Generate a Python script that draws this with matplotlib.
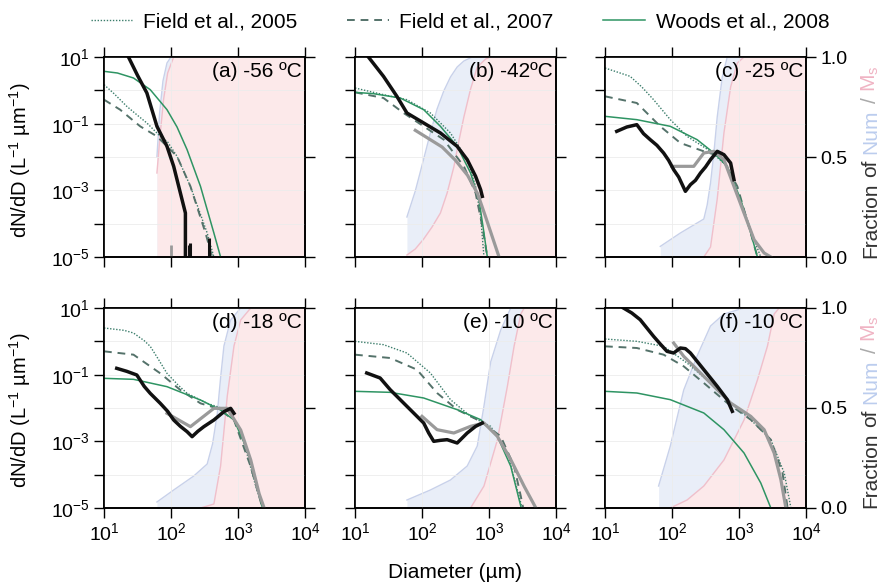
import numpy as np
import matplotlib
matplotlib.use('Agg')
import matplotlib.pyplot as plt
from matplotlib.lines import Line2D
from matplotlib.ticker import FixedLocator, FuncFormatter, NullLocator

plt.rcParams['font.family'] = ['Liberation Sans', 'DejaVu Sans']
plt.rcParams['mathtext.fontset'] = 'custom'
plt.rcParams['mathtext.rm'] = 'Liberation Sans'
plt.rcParams['mathtext.it'] = 'Liberation Sans:italic'
plt.rcParams['mathtext.default'] = 'regular'

# ---------------- data (log10 diameter [um], log10 dN/dD, fractions) ----------------
panel_labels = ['(a) -56 ºC', '(b) -42ºC', '(c) -25 ºC', '(d) -18 ºC', '(e) -10 ºC', '(f) -10 ºC']
legend_labels = ['Field et al., 2005', 'Field et al., 2007', 'Woods et al., 2008']
x_ticks = [10, 100, 1000, 10000]
y_ticks = [1e-5, 1e-4, 1e-3, 1e-2, 1e-1, 1e0, 1e1]
frac_ticks = [0.0, 0.5, 1.0]

# panel (a)
a_black_x = [1.365, 1.50, 1.64, 1.79, 1.94, 2.04, 2.14, 2.215, 2.215]
a_black_y = [1.0, 0.45, -0.08, -1.08, -1.68, -2.28, -3.08, -3.68, -6.0]
a_spike_x = [2.27, 2.29, 2.565]
a_spike_y = [-4.65, -4.58, -4.43]
a_gspike_x = [2.0]
a_gspike_y = [-4.63]
a_gray_x = []
a_gray_y = []
a_woods_x = [1.0, 1.2, 1.44, 1.69, 1.94, 2.09, 2.24, 2.44, 2.64, 2.74]
a_woods_y = [0.57, 0.52, 0.37, 0.02, -0.58, -1.1, -1.78, -2.88, -4.28, -5.0]
a_f05_x = [1.0, 1.15, 1.34, 1.5, 1.64, 1.84, 1.95, 2.09, 2.29, 2.54, 2.64]
a_f05_y = [0.17, -0.1, -0.48, -0.75, -0.98, -1.38, -1.55, -1.98, -2.88, -4.28, -5.0]
a_f07_x = [1.0, 1.24, 1.54, 1.79, 2.09, 2.29, 2.515, 2.615]
a_f07_y = [-0.28, -0.58, -1.08, -1.38, -1.98, -2.88, -4.28, -5.0]
a_blue_x = [1.79, 1.83, 1.88, 1.94, 2.0, 4.0]
a_blue_y = [0.5, 0.72, 0.88, 0.97, 1.0, 1.0]
a_pink_x = [1.79, 1.84, 1.89, 1.95, 2.04, 4.0]
a_pink_y = [0.42, 0.62, 0.79, 0.92, 1.0, 1.0]

# panel (b)
b_black_x = [1.2, 1.425, 1.625, 1.775, 2.025, 2.275, 2.525, 2.675, 2.8, 2.875, 2.9]
b_black_y = [1.0, 0.42, -0.18, -0.68, -0.98, -1.28, -1.68, -2.08, -2.58, -2.98, -3.18]
b_gray_x = [1.9, 2.1, 2.3, 2.5, 2.68, 2.83, 2.95, 3.05, 3.15]
b_gray_y = [-1.2, -1.45, -1.7, -2.1, -2.55, -3.1, -3.8, -4.4, -5.0]
b_woods_x = [1.0, 1.275, 1.675, 2.025, 2.275, 2.525, 2.725, 2.85, 2.925, 2.975]
b_woods_y = [-0.06, -0.1, -0.23, -0.58, -1.08, -1.68, -2.48, -3.28, -4.28, -5.0]
b_f05_x = [1.0, 1.425, 1.775, 2.125, 2.425, 2.675, 2.8, 2.875, 2.925]
b_f05_y = [0.07, -0.13, -0.28, -0.68, -1.28, -2.08, -2.88, -3.78, -5.0]
b_f07_x = [1.0, 1.425, 1.725, 2.025, 2.325, 2.625, 2.8, 2.9, 2.975]
b_f07_y = [-0.06, -0.23, -0.68, -1.08, -1.48, -2.28, -3.08, -4.08, -5.0]
b_blue_x = [1.775, 1.9, 2.025, 2.125, 2.225, 2.325, 2.425, 2.525, 2.625, 2.75, 4.0]
b_blue_y = [0.2, 0.33, 0.49, 0.62, 0.74, 0.83, 0.9, 0.95, 0.98, 1.0, 1.0]
b_pink_x = [1.775, 1.9, 2.025, 2.15, 2.275, 2.375, 2.475, 2.55, 2.625, 2.725, 2.825, 2.95, 3.025, 4.0]
b_pink_y = [0.01, 0.04, 0.09, 0.15, 0.22, 0.32, 0.45, 0.58, 0.70, 0.84, 0.95, 0.99, 1.0, 1.0]

# panel (c)
c_black_x = [1.175, 1.325, 1.475, 1.575, 1.675, 1.775, 1.875, 1.95, 2.025, 2.1, 2.2, 2.275,
             2.35, 2.425, 2.5, 2.575, 2.675, 2.775, 2.875, 2.925]
c_black_y = [-1.23, -1.1, -1.03, -1.3, -1.48, -1.65, -1.88, -2.1, -2.38, -2.6, -3.03, -2.83,
             -2.7, -2.48, -2.3, -2.08, -1.83, -1.93, -2.18, -2.68]
c_gray_x = [2.0, 2.325, 2.475, 2.625, 2.775, 2.925, 3.075, 3.225, 3.375, 3.475]
c_gray_y = [-2.28, -2.28, -1.88, -1.83, -2.08, -2.88, -3.68, -4.48, -4.88, -5.0]
c_woods_x = [1.0, 1.475, 1.975, 2.375, 2.625, 2.825, 3.025, 3.175, 3.275]
c_woods_y = [-0.78, -0.88, -1.08, -1.48, -1.88, -2.28, -3.28, -4.28, -5.0]
c_f05_x = [1.0, 1.375, 1.55, 1.725, 1.975, 2.225, 2.575, 2.825, 3.025, 3.225, 3.325]
c_f05_y = [0.67, 0.42, 0.1, -0.28, -0.88, -1.38, -1.83, -2.28, -3.3, -4.48, -5.0]
c_f07_x = [1.0, 1.475, 1.825, 2.125, 2.475, 2.725, 2.975, 3.175, 3.275]
c_f07_y = [-0.18, -0.38, -1.08, -1.58, -1.83, -1.98, -2.88, -4.28, -5.0]
c_blue_x = [1.825, 2.125, 2.475, 2.525, 2.575, 2.625, 2.675, 2.75, 2.825, 4.0]
c_blue_y = [0.053, 0.12, 0.19, 0.26, 0.37, 0.52, 0.70, 0.9, 1.0, 1.0]
c_pink_x = [2.475, 2.575, 2.675, 2.775, 2.875, 2.975, 3.075, 4.0]
c_pink_y = [0.0, 0.05, 0.29, 0.62, 0.85, 0.97, 1.0, 1.0]

# panel (d)
d_black_x = [1.19, 1.34, 1.49, 1.6, 1.69, 1.84, 1.95, 2.04, 2.14, 2.24, 2.315, 2.4, 2.49,
             2.64, 2.79, 2.89, 2.94]
d_black_y = [-0.81, -0.9, -1.01, -1.35, -1.56, -1.86, -2.1, -2.36, -2.55, -2.71, -2.86, -2.7,
             -2.56, -2.36, -2.11, -2.01, -2.16]
d_gray_x = [1.94, 2.29, 2.64, 2.84, 3.04, 3.19, 3.315, 3.39]
d_gray_y = [-2.16, -2.56, -2.01, -2.01, -2.66, -3.56, -4.57, -5.0]
d_woods_x = [1.0, 1.44, 1.94, 2.44, 2.74, 2.94, 3.14, 3.29, 3.365]
d_woods_y = [-1.11, -1.14, -1.36, -1.76, -2.06, -2.36, -3.26, -4.37, -5.0]
d_f05_x = [1.0, 1.3, 1.44, 1.6, 1.69, 1.8, 1.94, 2.1, 2.24, 2.54, 2.84, 3.04, 3.24, 3.365]
d_f05_y = [0.4, 0.33, 0.25, 0.02, -0.15, -0.5, -0.96, -1.3, -1.56, -1.86, -2.06, -2.66, -4.17, -5.0]
d_f07_x = [1.0, 1.44, 1.84, 2.14, 2.44, 2.69, 2.94, 3.19, 3.365]
d_f07_y = [-0.3, -0.4, -0.96, -1.46, -1.86, -2.01, -2.36, -3.76, -5.0]
d_blue_x = [1.79, 2.04, 2.34, 2.54, 2.62, 2.69, 2.74, 2.79, 2.89, 3.04, 4.0]
d_blue_y = [0.03, 0.09, 0.16, 0.22, 0.32, 0.47, 0.65, 0.81, 0.94, 1.0, 1.0]
d_pink_x = [2.44, 2.64, 2.74, 2.84, 2.94, 3.04, 3.19, 4.0]
d_pink_y = [0.0, 0.02, 0.21, 0.56, 0.81, 0.94, 1.0, 1.0]

# panel (e)
e_black_x = [1.175, 1.375, 1.525, 1.65, 1.775, 1.9, 2.025, 2.1, 2.175, 2.275, 2.375, 2.45,
             2.525, 2.6, 2.675, 2.8, 2.9]
e_black_y = [-0.95, -1.1, -1.45, -1.7, -1.95, -2.2, -2.45, -2.75, -3.0, -2.97, -2.95, -3.0,
             -3.05, -2.9, -2.75, -2.55, -2.45]
e_gray_x = [2.0, 2.225, 2.475, 2.725, 2.925, 3.125, 3.325, 3.525, 3.7]
e_gray_y = [-2.25, -2.65, -2.75, -2.55, -2.45, -2.85, -3.55, -4.35, -5.0]
e_woods_x = [1.0, 1.525, 2.025, 2.525, 2.875, 3.125, 3.325, 3.475, 3.5]
e_woods_y = [-1.5, -1.53, -1.7, -2.05, -2.35, -2.85, -3.75, -4.95, -5.1]
e_f05_x = [1.0, 1.425, 1.775, 2.125, 2.425, 2.725, 3.025, 3.275, 3.475, 3.5]
e_f05_y = [0.0, -0.1, -0.35, -0.95, -1.75, -2.25, -2.55, -3.35, -4.85, -5.1]
e_f07_x = [1.0, 1.525, 1.925, 2.225, 2.525, 2.875, 3.175, 3.375, 3.475, 3.52]
e_f07_y = [-0.4, -0.5, -0.85, -1.55, -2.05, -2.4, -2.85, -3.75, -4.65, -5.1]
e_blue_x = [1.775, 2.125, 2.425, 2.675, 2.825, 2.925, 3.025, 3.175, 3.325, 4.0]
e_blue_y = [0.04, 0.09, 0.14, 0.21, 0.31, 0.51, 0.73, 0.89, 1.0, 1.0]
e_pink_x = [2.725, 2.925, 3.125, 3.275, 3.375, 3.475, 3.525, 4.0]
e_pink_y = [0.0, 0.11, 0.34, 0.61, 0.81, 0.97, 1.0, 1.0]

# panel (f)
f_black_x = [1.275, 1.4, 1.525, 1.625, 1.725, 1.825, 1.925, 2.025, 2.125, 2.2, 2.275, 2.375,
             2.475, 2.575, 2.675, 2.825, 2.9]
f_black_y = [1.0, 0.85, 0.65, 0.4, 0.15, -0.08, -0.3, -0.35, -0.2, -0.22, -0.35, -0.6, -0.85,
             -1.1, -1.35, -1.75, -2.1]
f_gray_x = [2.025, 2.175, 2.375, 2.625, 2.875, 3.175, 3.375, 3.525, 3.625, 3.7]
f_gray_y = [-0.05, -0.45, -0.85, -1.35, -1.85, -2.25, -2.65, -3.35, -4.15, -5.0]
f_woods_x = [1.0, 1.475, 1.975, 2.475, 2.775, 3.075, 3.325, 3.475]
f_woods_y = [-1.5, -1.55, -1.75, -2.15, -2.65, -3.35, -4.25, -5.0]
f_f05_x = [1.0, 1.475, 1.875, 2.225, 2.575, 2.875, 3.175, 3.475, 3.675, 3.775]
f_f05_y = [0.07, 0.0, -0.15, -0.65, -1.25, -1.85, -2.35, -2.95, -3.95, -5.0]
f_f07_x = [1.0, 1.475, 1.875, 2.175, 2.475, 2.825, 3.175, 3.475, 3.65, 3.725]
f_f07_y = [-0.15, -0.2, -0.4, -0.75, -1.25, -1.85, -2.35, -2.95, -3.95, -5.0]
f_blue_x = [1.8, 1.975, 2.175, 2.375, 2.575, 2.775, 3.075, 4.0]
f_blue_y = [0.11, 0.31, 0.59, 0.76, 0.91, 0.97, 1.0, 1.0]
f_pink_x = [1.975, 2.225, 2.475, 2.775, 3.075, 3.275, 3.425, 3.525, 3.6, 4.0]
f_pink_y = [0.0, 0.04, 0.11, 0.24, 0.44, 0.64, 0.81, 0.97, 1.0, 1.0]

# ---------------- style ----------------
C_F05 = '#3b7d6b'
C_F07 = '#54726a'
C_WOODS = '#2e9463'
C_BLACK = '#111111'
C_GRAY = '#9a9a9a'
BLUE_FILL = '#e9eef8'
BLUE_LINE = '#c8d1ea'
PINK_FILL = '#fce9ea'
PINK_LINE = '#f1bfca'
FS = 14

W, H = 882, 588
fig = plt.figure(figsize=(W / 100, H / 100), dpi=100)

lefts_px = [104, 355, 605]
tops_px = [57, 308]
aw, ah = 201, 200

panels = [
    (a_black_x, a_black_y, a_gray_x, a_gray_y, a_woods_x, a_woods_y, a_f05_x, a_f05_y, a_f07_x, a_f07_y, a_blue_x, a_blue_y, a_pink_x, a_pink_y),
    (b_black_x, b_black_y, b_gray_x, b_gray_y, b_woods_x, b_woods_y, b_f05_x, b_f05_y, b_f07_x, b_f07_y, b_blue_x, b_blue_y, b_pink_x, b_pink_y),
    (c_black_x, c_black_y, c_gray_x, c_gray_y, c_woods_x, c_woods_y, c_f05_x, c_f05_y, c_f07_x, c_f07_y, c_blue_x, c_blue_y, c_pink_x, c_pink_y),
    (d_black_x, d_black_y, d_gray_x, d_gray_y, d_woods_x, d_woods_y, d_f05_x, d_f05_y, d_f07_x, d_f07_y, d_blue_x, d_blue_y, d_pink_x, d_pink_y),
    (e_black_x, e_black_y, e_gray_x, e_gray_y, e_woods_x, e_woods_y, e_f05_x, e_f05_y, e_f07_x, e_f07_y, e_blue_x, e_blue_y, e_pink_x, e_pink_y),
    (f_black_x, f_black_y, f_gray_x, f_gray_y, f_woods_x, f_woods_y, f_f05_x, f_f05_y, f_f07_x, f_f07_y, f_blue_x, f_blue_y, f_pink_x, f_pink_y),
]


def p10(v):
    return 10.0 ** np.asarray(v, dtype=float)


def yfmt(v, pos):
    k = int(round(np.log10(v)))
    return f'$10^{{{k}}}$' if k % 2 != 0 else ''


def xfmt(v, pos):
    k = int(round(np.log10(v)))
    return f'$10^{{{k}}}$'


for i, data in enumerate(panels):
    row, col = divmod(i, 3)
    (bkx, bky, gx, gy, wx, wy, f5x, f5y, f7x, f7y, blx, bly, pkx, pky) = data
    l = lefts_px[col] / W
    b = 1 - (tops_px[row] + ah) / H
    ax = fig.add_axes([l, b, aw / W, ah / H])
    ax.set_xscale('log')
    ax.set_yscale('log')
    ax2 = ax.twinx()
    ax.set_zorder(ax2.get_zorder() + 1)
    ax.patch.set_visible(False)

    # fraction fills
    ax2.fill_between(p10(blx), 0, bly, color=BLUE_FILL, lw=0)
    ax2.plot(p10(blx), bly, color=BLUE_LINE, lw=1.0)
    ax2.fill_between(p10(pkx), 0, pky, color=PINK_FILL, lw=0)
    ax2.plot(p10(pkx), pky, color=PINK_LINE, lw=1.0)
    ax2.set_ylim(0, 1)
    ax2.set_yticks(frac_ticks)
    ax2.set_yticklabels(['0.0', '0.5', '1.0'])
    ax2.tick_params(axis='y', direction='out', length=7, width=1, labelsize=FS,
                    labelright=(col == 2))

    ax.grid(True, which='major', color='#ececec', lw=0.6)

    # parameterisations
    ax.plot(p10(f5x), p10(f5y), color=C_F05, lw=1.0, ls=(0, (1, 1.2)))
    ax.plot(p10(f7x), p10(f7y), color=C_F07, lw=1.4, ls=(0, (4, 3)))
    ax.plot(p10(wx), p10(wy), color=C_WOODS, lw=1.1)
    # measurements
    if len(gx):
        ax.plot(p10(gx), p10(gy), color=C_GRAY, lw=2.3, solid_joinstyle='round')
    ax.plot(p10(bkx), p10(bky), color=C_BLACK, lw=2.5, solid_joinstyle='round')
    if i == 0:
        ax.vlines(p10(a_gspike_x), 1e-6, p10(a_gspike_y), color=C_GRAY, lw=2.0)
        ax.vlines(p10(a_spike_x), 1e-6, p10(a_spike_y), color=C_BLACK, lw=2.2)

    ax.set_xlim(10, 1e4)
    ax.set_ylim(1e-5, 10)
    ax.xaxis.set_major_locator(FixedLocator(x_ticks))
    ax.xaxis.set_minor_locator(NullLocator())
    ax.yaxis.set_major_locator(FixedLocator(y_ticks))
    ax.yaxis.set_minor_locator(NullLocator())
    ax.yaxis.set_major_formatter(FuncFormatter(yfmt))
    ax.xaxis.set_major_formatter(FuncFormatter(xfmt))
    ax.tick_params(axis='both', which='major', direction='out', length=7, width=1,
                   labelsize=FS, top=True)
    ax.tick_params(axis='y', labelleft=(col == 0))
    ax.tick_params(axis='x', labelbottom=(row == 1))
    for a_ in (ax, ax2):
        for sp in a_.spines.values():
            sp.set_linewidth(1.2)

    ax.text(0.985, 0.975, panel_labels[i], transform=ax.transAxes, ha='right', va='top',
            fontsize=FS + 1, zorder=10)

# axis labels
for yc in (160, 410):
    fig.text(20 / W, 1 - yc / H, r'dN/dD (L$^{-1}$ µm$^{-1}$)', rotation=90,
             ha='center', va='center', fontsize=FS + 0.5)
fig.text(455 / W, 1 - 573 / H, 'Diameter (µm)', ha='center', va='center', fontsize=FS + 1)

# multi-coloured right label
renderer = fig.canvas.get_renderer()
RFS = 15


def text_width(s, fs):
    t = fig.text(0, 0, s, fontsize=fs)
    w = t.get_window_extent(renderer).width
    t.remove()
    return w


pieces = [('Fraction', '#333333'), ('of', '#333333'), ('Num', '#bccdee'),
          ('/', '#aaaaaa'), ('M$_s$', '#f0b4c4')]
gap = text_width('x x', RFS) - text_width('xx', RFS)
widths = [text_width(s, RFS) for s, _ in pieces]
for bottom_px in (258, 508):
    y = H - bottom_px
    for (s, c), w in zip(pieces, widths):
        fig.text(876 / W, y / H, s, color=c, rotation=90, rotation_mode='anchor',
                 ha='left', va='baseline', fontsize=RFS)
        y += w + gap

# legend
handles = [Line2D([], [], color=C_F05, lw=1.0, ls=(0, (1, 1.2))),
           Line2D([], [], color=C_F07, lw=1.4, ls=(0, (4, 3))),
           Line2D([], [], color=C_WOODS, lw=1.1)]
fig.legend(handles, legend_labels, loc='center', bbox_to_anchor=(460 / W, 1 - 22 / H),
           ncol=3, frameon=False, fontsize=FS + 1, handlelength=2.0, handletextpad=0.5,
           columnspacing=2.4)

fig.savefig('out.png', dpi=100)
